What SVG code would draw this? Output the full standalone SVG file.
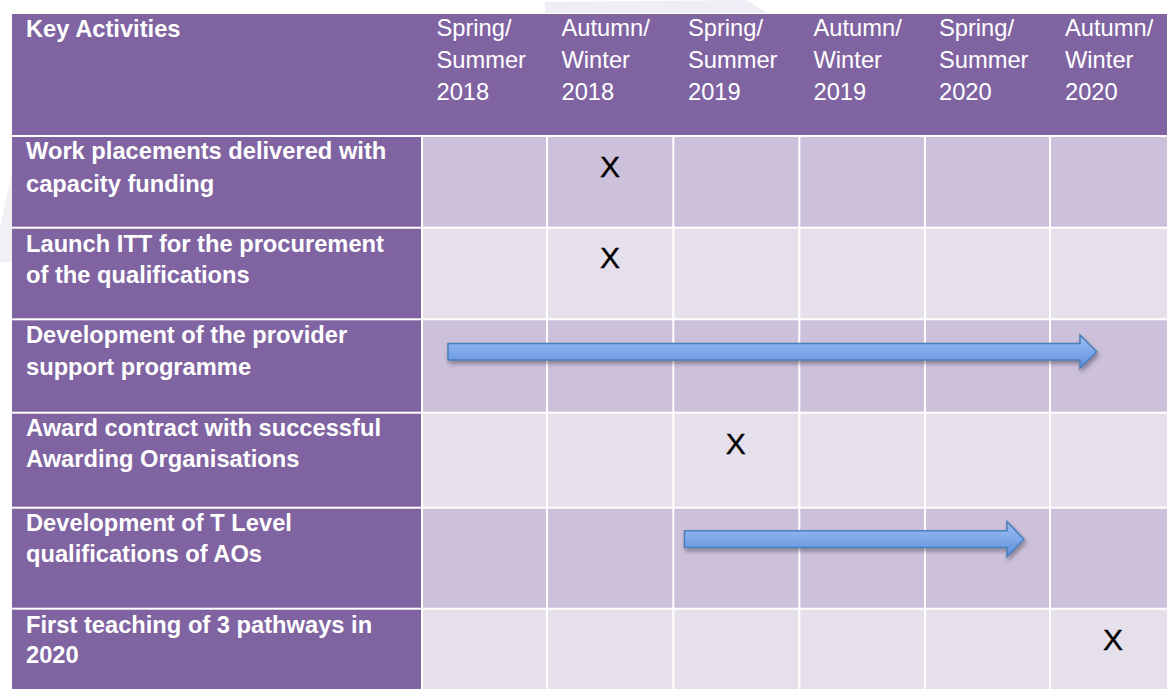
<svg xmlns="http://www.w3.org/2000/svg" width="1167" height="689" viewBox="0 0 1167 689">
  <style>
    .hdr { fill: #8064A2; }
    .lab { fill: #8064A2; }
    .dark { fill: #CCC0DA; }
    .light { fill: #E5E0EC; }
    .grid { stroke: #FFFFFF; stroke-width: 2; }
    .lt { font-family: "Liberation Sans", Arial, sans-serif; font-size: 23.7px; font-weight: bold; fill: #FFFFFF; }
    .ht { font-family: "Liberation Sans", Arial, sans-serif; font-size: 23.7px; fill: #FFFFFF; }
    .x { font-family: "Liberation Sans", Arial, sans-serif; font-size: 30px; fill: #000000; stroke: #000000; stroke-width: 0.4; }
    .arrow { fill: url(#blue); stroke: #4A7EBB; stroke-width: 1.5; filter: url(#shadow); }
  </style>
  <defs>
    <linearGradient id="blue" x1="0" y1="0" x2="0" y2="1">
      <stop offset="0" stop-color="#9DBEF4"/>
      <stop offset="0.5" stop-color="#7EA8EA"/>
      <stop offset="1" stop-color="#5E8FD9"/>
    </linearGradient>
    <filter id="shadow" x="-5%" y="-50%" width="110%" height="220%">
      <feDropShadow dx="1.5" dy="3" stdDeviation="2" flood-color="#000000" flood-opacity="0.35"/>
    </filter>
  </defs>

  <rect x="0" y="0" width="1167" height="689" fill="#FFFFFF"/>
  <!-- faint watermark -->
  <polygon points="545,2 746,0 768,13 545,13" fill="#EFEDF5"/>
  <polygon points="12,172 12,262 0,262 0,228" fill="#F1F0F5"/>

  <!-- header -->
  <g id="header">
    <rect class="hdr" x="12" y="14" width="1155" height="121"/>
    <text class="lt" x="26" y="36.5">Key Activities</text>
    <text class="ht" x="436.5" y="35.5"><tspan x="436.5">Spring/</tspan><tspan x="436.5" dy="32">Summer</tspan><tspan x="436.5" dy="32">2018</tspan></text>
    <text class="ht" x="561.5" y="35.5"><tspan x="561.5">Autumn/</tspan><tspan x="561.5" dy="32">Winter</tspan><tspan x="561.5" dy="32">2018</tspan></text>
    <text class="ht" x="688" y="35.5"><tspan x="688">Spring/</tspan><tspan x="688" dy="32">Summer</tspan><tspan x="688" dy="32">2019</tspan></text>
    <text class="ht" x="813.5" y="35.5"><tspan x="813.5">Autumn/</tspan><tspan x="813.5" dy="32">Winter</tspan><tspan x="813.5" dy="32">2019</tspan></text>
    <text class="ht" x="939" y="35.5"><tspan x="939">Spring/</tspan><tspan x="939" dy="32">Summer</tspan><tspan x="939" dy="32">2020</tspan></text>
    <text class="ht" x="1065" y="35.5"><tspan x="1065">Autumn/</tspan><tspan x="1065" dy="32">Winter</tspan><tspan x="1065" dy="32">2020</tspan></text>
  </g>

  <g id="row1">
    <rect class="lab" x="12" y="137" width="409" height="89.7"/>
    <rect class="dark" x="423" y="137" width="744" height="89.7"/>
    <text class="lt" x="26" y="158.5"><tspan x="26">Work placements delivered with</tspan><tspan x="26" dy="33">capacity funding</tspan></text>
    <text class="x" x="600" y="176.5">X</text>
  </g>

  <g id="row2">
    <rect class="lab" x="12" y="228.7" width="409" height="89.6"/>
    <rect class="light" x="423" y="228.7" width="744" height="89.6"/>
    <text class="lt" x="26" y="251.5"><tspan x="26">Launch ITT for the procurement</tspan><tspan x="26" dy="31.5">of the qualifications</tspan></text>
    <text class="x" x="600" y="268.3">X</text>
  </g>

  <g id="row3">
    <rect class="lab" x="12" y="320.3" width="409" height="91.4"/>
    <rect class="dark" x="423" y="320.3" width="744" height="91.4"/>
    <text class="lt" x="26" y="343.3"><tspan x="26">Development of the provider</tspan><tspan x="26" dy="31.7">support programme</tspan></text>
  </g>

  <g id="row4">
    <rect class="lab" x="12" y="413.7" width="409" height="93"/>
    <rect class="light" x="423" y="413.7" width="744" height="93"/>
    <text class="lt" x="26" y="436"><tspan x="26">Award contract with successful</tspan><tspan x="26" dy="31.3">Awarding Organisations</tspan></text>
    <text class="x" x="725.7" y="454.3">X</text>
  </g>

  <g id="row5">
    <rect class="lab" x="12" y="508.7" width="409" height="99"/>
    <rect class="dark" x="423" y="508.7" width="744" height="99"/>
    <text class="lt" x="26" y="530.7"><tspan x="26">Development of T Level</tspan><tspan x="26" dy="31.5">qualifications of AOs</tspan></text>
  </g>

  <g id="row6">
    <rect class="lab" x="12" y="609.7" width="409" height="79.3"/>
    <rect class="light" x="423" y="609.7" width="744" height="79.3"/>
    <text class="lt" x="26" y="632.5"><tspan x="26">First teaching of 3 pathways in</tspan><tspan x="26" dy="30.5">2020</tspan></text>
    <text class="x" x="1103" y="650">X</text>
  </g>

  <!-- column gridlines in cell area -->
  <g id="gridlines">
    <line class="grid" x1="547" y1="136" x2="547" y2="689"/>
    <line class="grid" x1="673.3" y1="136" x2="673.3" y2="689"/>
    <line class="grid" x1="799.3" y1="136" x2="799.3" y2="689"/>
    <line class="grid" x1="925" y1="136" x2="925" y2="689"/>
    <line class="grid" x1="1050" y1="136" x2="1050" y2="689"/>
  </g>

  <g id="connectors">
    <path class="arrow" d="M448,343.5 H1080 V335 L1096.7,351.7 L1080,368.4 V360 H448 Z"/>
    <path class="arrow" d="M684.5,530.7 H1007 V521.7 L1024,539.2 L1007,556.7 V547.5 H684.5 Z"/>
  </g>
</svg>
